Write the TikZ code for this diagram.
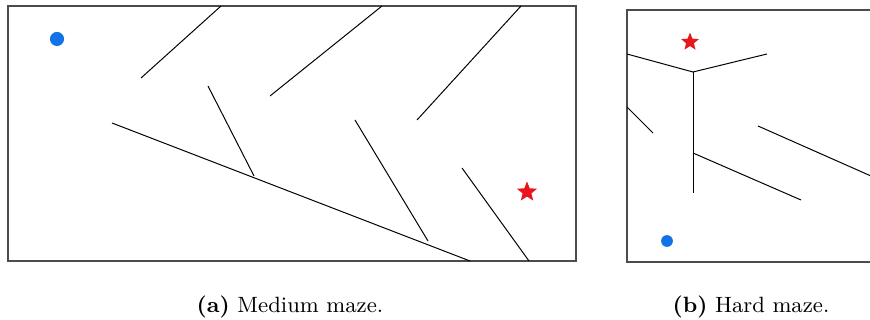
\documentclass[tikz,border=0pt]{standalone}
\usepackage{xcolor}
\usepackage{tikz}
\usetikzlibrary{shapes.geometric}

\definecolor{startblue}{RGB}{18,114,230}
\definecolor{goalred}{RGB}{232,22,28}

\tikzset{
    frame/.style={draw=black!70, line width=0.55pt},
    wall/.style={draw=black, line width=0.42pt},
    startdot/.style={circle, fill=startblue, inner sep=0pt},
    goalstar/.style={star, star points=5, star point ratio=2.3, fill=goalred, inner sep=0pt}
}

\begin{document}
\begin{tikzpicture}[x=0.425pt, y=-0.425pt]
    \useasboundingbox (0,0) rectangle (870,320);
    \begin{scope}
    \clip (0,0) rectangle (870,320);

    % --- Medium maze ---
    \draw[frame] (8,6) rectangle (576,261);
    \draw[wall] (141,78) -- (221,6);
    \draw[wall] (270,96) -- (382,6);
    \draw[wall] (417,120) -- (521,6);
    \draw[wall] (208,86) -- (254,176);
    \draw[wall] (112,123) -- (470,261);
    \draw[wall] (355,120) -- (428,241);
    \draw[wall] (462,168) -- (529,261);
    \node[startdot, minimum size=6pt] (startA) at (57,39) {};
    \node[goalstar, minimum size=9pt] (goalA) at (527,192) {};

    % --- Hard maze (cut at the right edge) ---
    \draw[frame] (627,10) rectangle (900,262);
    \draw[wall] (627,54) -- (693,72) -- (767,54);
    \draw[wall] (693,72) -- (693,193);
    \draw[wall] (627,107) -- (653,133);
    \draw[wall] (693,153) -- (801,200);
    \draw[wall] (758,126) -- (880,180);
    \node[startdot, minimum size=5pt] (startB) at (667,241) {};
    \node[goalstar, minimum size=8pt] (goalB) at (690,42) {};
    \end{scope}

    % --- Captions ---
    \node[font=\fontsize{9.4}{11}\selectfont] (capA) at (290,307) {\textbf{(a)} Medium maze.};
    \node[font=\fontsize{9.4}{11}\selectfont] (capB) at (751,307) {\textbf{(b)} Hard maze.};
\end{tikzpicture}
\end{document}
